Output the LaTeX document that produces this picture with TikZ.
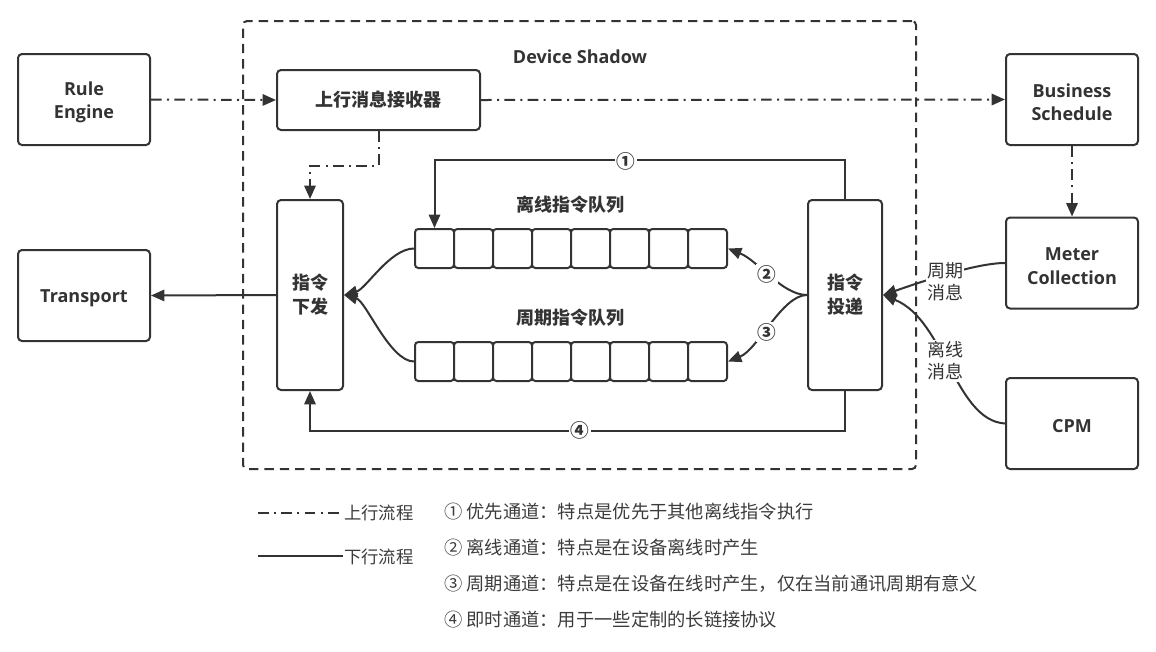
\documentclass[tikz,border=0pt]{standalone}
\usepackage{fontspec}
\setmainfont{Open Sans}
\newfontfamily\cjk{Noto Sans CJK SC}
\usetikzlibrary{arrows.meta}
\definecolor{ink}{HTML}{333333}
\definecolor{txt}{HTML}{333333}
\definecolor{legc}{HTML}{3C3C3C}
\newcommand\topstrut{\rule{0pt}{13pt}}
\newcommand\tallstrut{\rule{0pt}{14.5pt}}
\begin{document}
\begin{tikzpicture}[x=0.75pt,y=-0.75pt,
  box/.style={draw=ink, line width=1.5pt, rounded corners=3pt, fill=white, align=center,
    font=\bfseries\fontsize{13.5}{17.5}\selectfont, text=txt, inner sep=0pt},
  lbox/.style={box, execute at begin node=\topstrut},
  cbox/.style={box, font=\cjk\bfseries\fontsize{13.5}{18}\selectfont},
  bigbox/.style={minimum width=99pt, minimum height=68.25pt},
  cell/.style={draw=ink, line width=1.5pt, rounded corners=2.5pt, fill=white,
    minimum width=29.25pt, minimum height=29.25pt, inner sep=0pt},
  shadowbox/.style={draw=ink, line width=1.5pt, rounded corners=3pt, dash pattern=on 7pt off 4.5pt,
    minimum width=504.75pt, minimum height=336pt, inner sep=0pt},
  upflow/.style={draw=ink, line width=1.5pt, dash pattern=on 8pt off 4pt on 1.5pt off 4pt},
  downflow/.style={draw=ink, line width=1.5pt},
  tip/.style={-{Triangle[length=10pt,width=8.5pt]}},
  num/.style={fill=white, inner sep=1pt, font=\cjk\bfseries\fontsize{14}{14}\selectfont, text=txt},
  qtitle/.style={font=\cjk\bfseries\fontsize{13.5}{16}\selectfont, text=txt},
  msg/.style={fill=white, inner sep=1pt, align=center, font=\cjk\fontsize{13.5}{16.5}\selectfont, text=txt},
  legtxt/.style={anchor=west, inner sep=0pt, font=\cjk\fontsize{13}{15}\selectfont, text=legc},
  legdesc/.style={legtxt, font=\cjk\fontsize{13.7}{16}\selectfont},
]
\useasboundingbox (0,0) rectangle (1156,651);

% container
\node[shadowbox] (shadow) at (579.5,245) {};
\node[font=\bfseries\fontsize{13.5}{16}\selectfont, text=txt] (title) at (580,57) {Device Shadow};

% outer boxes
\node[box, bigbox] (rule) at (84,99.5) {\tallstrut Rule\\Engine};
\node[lbox, bigbox] (trans) at (84,295.5) {Transport};
\node[box, bigbox] (biz) at (1072,99.5) {\tallstrut Business\\Schedule};
\node[box, bigbox] (meter) at (1072,263) {\tallstrut Meter\\Collection};
\node[lbox, bigbox] (cpm) at (1072,423.5) {CPM};

% inner boxes
\node[cbox, minimum width=152.25pt, minimum height=45pt] (recv) at (378.5,100) {上行消息接收器};
\node[cbox, minimum width=49.5pt, minimum height=142.5pt] (xf) at (310,295) {指令\\下发};
\node[cbox, minimum width=55.5pt, minimum height=142.5pt] (td) at (845,295) {指令\\投递};

% queues
\foreach \i in {1,...,8} {
  \node[cell] (q\i) at ({415+39*(\i-0.5)},248.5) {};
  \node[cell] (p\i) at ({415+39*(\i-0.5)},361.5) {};
}
\node[qtitle] (qt1) at (570,205) {离线指令队列};
\node[qtitle] (qt2) at (570,318) {周期指令队列};

% upstream flows
\draw[upflow, tip] (rule.east) -- (recv.west);
\draw[upflow, tip] (recv.east) -- (biz.west);
\draw[upflow, tip] (biz.south) -- (meter.north);
\draw[upflow, tip] (recv.south) -- ++(0,35) -| (xf.north);

% downstream flows
\draw[downflow, tip] (xf.west) -- (trans.east);
\draw[downflow, tip] (td.north) -- ++(0,-39) -| (q1.north);
\draw[downflow, tip] (td.south) -- ++(0,40) -| (xf.south);
\draw[downflow, tip] (td.west) .. controls +(-25,0) and +(30,12) .. (q8.east);
\draw[downflow, tip] (td.west) .. controls +(-25,0) and +(30,-12) .. (p8.east);
\draw[downflow, tip] (q1.west) .. controls +(-24,0) and +(22,-6) .. (xf.east);
\draw[downflow, tip] (p1.west) .. controls +(-24,0) and +(22,6) .. (xf.east);
\draw[downflow, tip] (meter.west) .. controls +(-30,0) and +(35,-12) .. (td.east);
\draw[downflow, tip] (cpm.west) .. controls +(-50,-3) and +(62,25) .. (td.east);

% channel labels
\node[num] (n1) at (626,161) {①};
\node[num] (n2) at (767,274) {②};
\node[num] (n3) at (767,332) {③};
\node[num] (n4) at (580,430) {④};
\node[msg] (m1) at (945,282) {周期\\消息};
\node[msg] (m2) at (945,361) {离线\\消息};

% legend
\coordinate (la1) at (258,513);
\coordinate (lb1) at (343,513);
\coordinate (la2) at (258,556);
\coordinate (lb2) at (343,556);
\draw[upflow] (la1) -- (lb1);
\draw[downflow] (la2) -- (lb2);
\node[legtxt] (lt1) at (344,513) {上行流程};
\node[legtxt] (lt2) at (344,557) {下行流程};
\node[legdesc] (d1) at (444,512) {① 优先通道：特点是优先于其他离线指令执行};
\node[legdesc] (d2) at (444,548) {② 离线通道：特点是在设备离线时产生};
\node[legdesc] (d3) at (444,584) {③ 周期通道：特点是在设备在线时产生，仅在当前通讯周期有意义};
\node[legdesc] (d4) at (444,620) {④ 即时通道：用于一些定制的长链接协议};
\end{tikzpicture}
\end{document}
